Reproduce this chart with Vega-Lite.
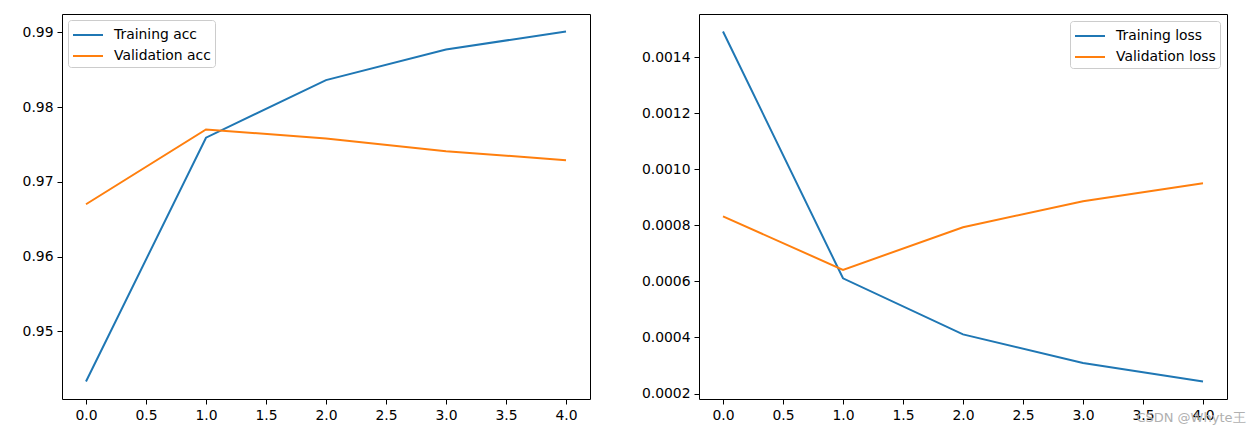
{
  "$schema": "https://vega.github.io/schema/vega-lite/v6.json",
  "padding": {"left": 21, "top": 13, "right": 5, "bottom": 5},
  "spacing": 49,
  "background": "white",
  "config": {
    "font": "DejaVu Sans",
    "view": {"stroke": "black", "strokeWidth": 1},
    "axis": {
      "domain": false, "grid": false, "ticks": true, "tickSize": 5, "tickColor": "black", "tickWidth": 1,
      "labelPadding": 4, "labelFont": "DejaVu Sans", "labelFontSize": 13.9, "labelColor": "black", "title": null
    },
    "legend": {
      "orient": "top-left", "offset": 6, "padding": 4, "strokeColor": "#cccccc", "fillColor": "white",
      "cornerRadius": 3, "symbolType": "M-1,0H2", "symbolSize": 400, "symbolStrokeWidth": 2,
      "labelFont": "DejaVu Sans", "labelFontSize": 13.9, "labelColor": "black", "labelOffset": 20, "title": null, "rowPadding": 3
    },
    "line": {"strokeWidth": 2}
  },
  "title": {"text": "CSDN @Whyte王", "orient": "bottom", "anchor": "end", "color": "#b0b0b0", "fontSize": 13, "fontWeight": "normal", "font": "DejaVu Sans", "offset": -10, "dx": 18},
  "data": {"values": [
    {"metric": "acc", "series": "Training acc", "epoch": 0, "value": 0.9433},
    {"metric": "acc", "series": "Training acc", "epoch": 1, "value": 0.9759},
    {"metric": "acc", "series": "Training acc", "epoch": 2, "value": 0.9836},
    {"metric": "acc", "series": "Training acc", "epoch": 3, "value": 0.9877},
    {"metric": "acc", "series": "Training acc", "epoch": 4, "value": 0.9901},
    {"metric": "acc", "series": "Validation acc", "epoch": 0, "value": 0.9670},
    {"metric": "acc", "series": "Validation acc", "epoch": 1, "value": 0.9770},
    {"metric": "acc", "series": "Validation acc", "epoch": 2, "value": 0.9758},
    {"metric": "acc", "series": "Validation acc", "epoch": 3, "value": 0.9741},
    {"metric": "acc", "series": "Validation acc", "epoch": 4, "value": 0.9729},
    {"metric": "loss", "series": "Training loss", "epoch": 0, "value": 0.001491},
    {"metric": "loss", "series": "Training loss", "epoch": 1, "value": 0.000611},
    {"metric": "loss", "series": "Training loss", "epoch": 2, "value": 0.000411},
    {"metric": "loss", "series": "Training loss", "epoch": 3, "value": 0.000309},
    {"metric": "loss", "series": "Training loss", "epoch": 4, "value": 0.000243},
    {"metric": "loss", "series": "Validation loss", "epoch": 0, "value": 0.000832},
    {"metric": "loss", "series": "Validation loss", "epoch": 1, "value": 0.000641},
    {"metric": "loss", "series": "Validation loss", "epoch": 2, "value": 0.000793},
    {"metric": "loss", "series": "Validation loss", "epoch": 3, "value": 0.000886},
    {"metric": "loss", "series": "Validation loss", "epoch": 4, "value": 0.000950}
  ]},
  "resolve": {"scale": {"color": "independent", "y": "independent"}, "legend": {"color": "independent"}},
  "hconcat": [
    {
      "width": 528, "height": 385,
      "transform": [{"filter": "datum.metric === 'acc'"}],
      "mark": {"type": "line", "clip": true},
      "encoding": {
        "x": {"field": "epoch", "type": "quantitative", "scale": {"domain": [-0.2, 4.2], "nice": false, "zero": false},
              "axis": {"values": [0, 0.5, 1, 1.5, 2, 2.5, 3, 3.5, 4], "format": ".1f"}},
        "y": {"field": "value", "type": "quantitative", "scale": {"domain": [0.94096, 0.99244], "nice": false, "zero": false},
              "axis": {"values": [0.95, 0.96, 0.97, 0.98, 0.99], "format": ".2f"}},
        "color": {"field": "series", "type": "nominal",
                  "scale": {"domain": ["Training acc", "Validation acc"], "range": ["#1f77b4", "#ff7f0e"]},
                  "legend": {"orient": "top-left", "offset": 6}}
      }
    },
    {
      "width": 528, "height": 385,
      "transform": [{"filter": "datum.metric === 'loss'"}],
      "mark": {"type": "line", "clip": true},
      "encoding": {
        "x": {"field": "epoch", "type": "quantitative", "scale": {"domain": [-0.2, 4.2], "nice": false, "zero": false},
              "axis": {"values": [0, 0.5, 1, 1.5, 2, 2.5, 3, 3.5, 4], "format": ".1f"}},
        "y": {"field": "value", "type": "quantitative", "scale": {"domain": [0.0001806, 0.0015534], "nice": false, "zero": false},
              "axis": {"values": [0.0002, 0.0004, 0.0006, 0.0008, 0.0010, 0.0012, 0.0014], "format": ".4f"}},
        "color": {"field": "series", "type": "nominal",
                  "scale": {"domain": ["Training loss", "Validation loss"], "range": ["#1f77b4", "#ff7f0e"]},
                  "legend": {"orient": "top-right", "offset": 7}}
      }
    }
  ]
}
